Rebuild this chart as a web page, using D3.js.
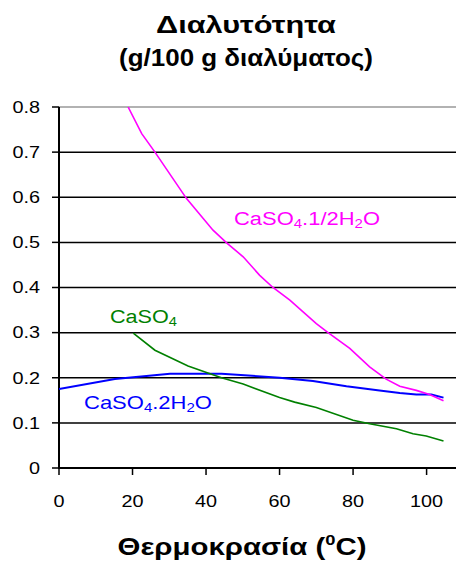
<!DOCTYPE html>
<html><head><meta charset="utf-8">
<script src="https://cdn.jsdelivr.net/npm/d3@7"></script>
<style>body{margin:0;background:#fff}svg{display:block;font-family:"Liberation Sans",Arial,sans-serif}</style>
</head><body>
<script>
const titleLines = ["Διαλυτότητα", "(g/100 g διαλύματος)"];
const xTitle = "Θερμοκρασία (";
const xTicks = [0, 20, 40, 60, 80, 100];
const yTicks = [0, 0.1, 0.2, 0.3, 0.4, 0.5, 0.6, 0.7, 0.8];
const yTickLabels = ["0", "0.1", "0.2", "0.3", "0.4", "0.5", "0.6", "0.7", "0.8"];

const hemiT = [18.8, 22.5, 26.1, 34.7, 41.9, 45.6, 50.1, 54.6, 58.2, 62.8, 70, 73.2, 79.1, 84.5, 89, 92.7, 97.2, 100.8, 104.6];
const hemiV = [0.80, 0.741, 0.70, 0.597, 0.527, 0.499, 0.468, 0.427, 0.40, 0.372, 0.320, 0.300, 0.265, 0.224, 0.197, 0.181, 0.172, 0.163, 0.149];
const anhT = [20.2, 26.1, 35.1, 44.2, 50.1, 60, 64.1, 70, 80, 84.5, 91.8, 96.3, 99.9, 104.6];
const anhV = [0.299, 0.261, 0.226, 0.200, 0.186, 0.156, 0.146, 0.134, 0.106, 0.098, 0.087, 0.076, 0.071, 0.060];
const dihT = [0, 15.2, 30.2, 44.2, 60, 69.1, 78.2, 87.2, 92.7, 97.2, 101.3, 104.6];
const dihV = [0.175, 0.197, 0.209, 0.209, 0.200, 0.193, 0.181, 0.172, 0.166, 0.163, 0.163, 0.156];

const W = 456, H = 561;
const svg = d3.select("body").append("svg").attr("width", W).attr("height", H);
const x = d3.scaleLinear().domain([0, 108]).range([59, 456]);
const y = d3.scaleLinear().domain([0, 0.8]).range([468, 107]);
const SX = 1.24;

function stext(g, tx, ty, anchor, size, weight, fill, sx) {
  const t = g.append("text").attr("text-anchor", anchor).attr("font-size", size)
    .attr("font-weight", weight).attr("fill", fill);
  t.attr("data-tx", tx).attr("data-ty", ty);
  t.attr("transform", `translate(${tx},${ty}) scale(${sx || SX},1)`);
  return t;
}
// stretch a text horizontally so its rendered width equals w
function fit(t, w) {
  const bw = t.node().getBBox().width;
  const s = bw > 0 ? w / bw : 1;
  t.attr("transform", `translate(${t.attr("data-tx")},${t.attr("data-ty")}) scale(${s},1)`);
  return t;
}

// gridlines
svg.append("g").selectAll("line").data(yTicks.filter(d => d > 0)).join("line")
  .attr("x1", x(0)).attr("x2", W).attr("y1", d => y(d)).attr("y2", d => y(d))
  .attr("stroke", d => d === 0.8 ? "#999" : "#000").attr("stroke-width", 1.5);

// axes
svg.append("line").attr("x1", x(0)).attr("x2", W).attr("y1", y(0)).attr("y2", y(0)).attr("stroke", "#000").attr("stroke-width", 2);
svg.append("line").attr("x1", x(0)).attr("x2", x(0)).attr("y1", y(0)+1).attr("y2", y(0.8)).attr("stroke", "#000").attr("stroke-width", 2);
svg.append("g").selectAll("line").data(yTicks).join("line")
  .attr("x1", x(0) - 7).attr("x2", x(0)).attr("y1", d => y(d)).attr("y2", d => y(d))
  .attr("stroke", "#000").attr("stroke-width", 1.5);
svg.append("g").selectAll("line").data(xTicks).join("line")
  .attr("x1", d => x(d)).attr("x2", d => x(d)).attr("y1", y(0)).attr("y2", y(0) + 7)
  .attr("stroke", "#000").attr("stroke-width", 1.5);

const tl = svg.append("g");
yTicks.forEach((d, i) => {
  stext(tl, 40, y(d) + 5.8, "end", 16, "normal", "#000").text(yTickLabels[i]);
});
xTicks.forEach(d => {
  stext(tl, x(d), 507, "middle", 16, "normal", "#000").text(d);
});

// lines
svg.append("clipPath").attr("id", "clip").append("rect").attr("x", x(0)).attr("y", y(0.8)).attr("width", W - x(0)).attr("height", y(0) - y(0.8));
const line = d3.line().x(d => x(d[0])).y(d => y(d[1]));
const lg = svg.append("g").attr("clip-path", "url(#clip)").attr("fill", "none");
lg.append("path").attr("d", line(d3.zip(dihT, dihV))).attr("stroke", "#0000ff").attr("stroke-width", 2);
lg.append("path").attr("d", line(d3.zip(anhT, anhV))).attr("stroke", "#008000").attr("stroke-width", 1.6);
lg.append("path").attr("d", line(d3.zip(hemiT, hemiV))).attr("stroke", "#ff00ff").attr("stroke-width", 1.6);

// series labels
function formula(tx, ty, parts, color, w) {
  const t = stext(svg, tx, ty, "start", 19, "normal", color, 1);
  parts.forEach(p => {
    if (p.sub) {
      t.append("tspan").attr("font-size", 13).attr("dy", 3).text(p.t);
    } else {
      t.append("tspan").attr("dy", p.after ? -3 : 0).text(p.t);
    }
  });
  fit(t, w);
}
formula(234, 225, [{t:"CaSO"},{t:"4",sub:true},{t:".1/2H",after:true},{t:"2",sub:true},{t:"O",after:true}], "#ff00ff", 146);
formula(110, 323, [{t:"CaSO"},{t:"4",sub:true}], "#008000", 67);
formula(84, 409, [{t:"CaSO"},{t:"4",sub:true},{t:".2H",after:true},{t:"2",sub:true},{t:"O",after:true}], "#0000ff", 128);

// titles
fit(stext(svg, 246, 33, "middle", 23, "bold", "#000", 1).text(titleLines[0]), 180);
fit(stext(svg, 246, 66, "middle", 23, "bold", "#000", 1).text(titleLines[1]), 254);
const xt = stext(svg, 242, 555, "middle", 24, "bold", "#000", 1);
xt.append("tspan").text(xTitle);
xt.append("tspan").attr("font-size", 15).attr("dy", -10).text("0");
xt.append("tspan").attr("dy", 10).text("C)");
fit(xt, 249);
</script>
</body></html>
